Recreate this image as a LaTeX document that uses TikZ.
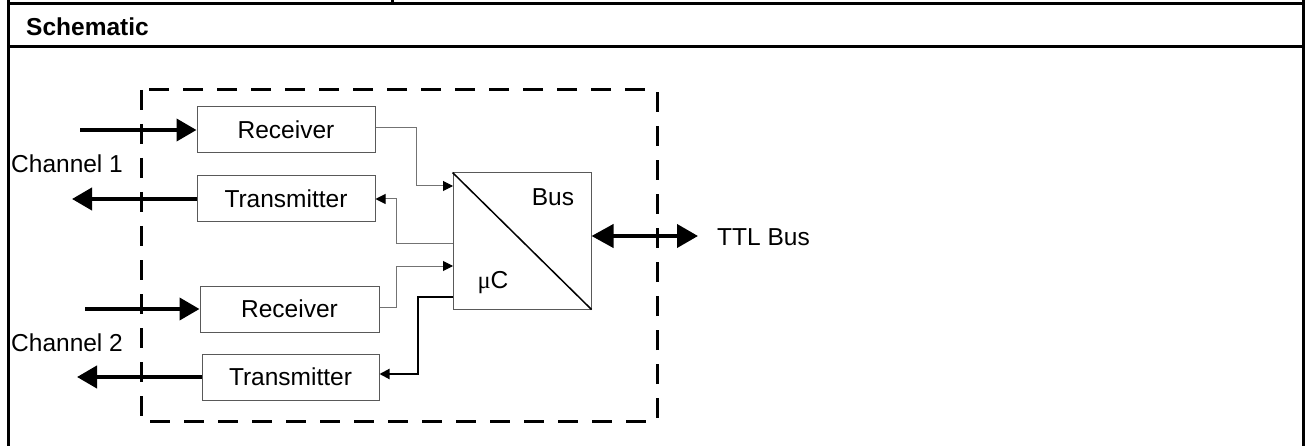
\documentclass[tikz,border=0pt]{standalone}
\usepackage{fontspec}
\setmainfont{Liberation Sans}
\newfontfamily\mufont{Liberation Serif}
\usetikzlibrary{arrows.meta}
\begin{document}
\begin{tikzpicture}[x=1pt,y=-1pt,
  frame/.style={line width=3pt,black},
  blk/.style={draw=black!65, line width=1pt, minimum height=46pt, inner sep=0pt, font=\fontsize{24.5}{28}\selectfont},
  lbl/.style={font=\fontsize{24.5}{28}\selectfont, inner sep=0pt},
  bigarrow/.style={line width=4pt, -{Triangle[length=20pt,width=22pt]}},
  wire/.style={draw=black!55, line width=1pt, -{Triangle[length=10pt,width=10pt,color=black]}}
]
\useasboundingbox (0,0) rectangle (1305,446);
% frame
\draw[frame] (8,0) -- (8,446);
\draw[frame] (1303,0) -- (1303,446);
\draw[frame] (8,4) -- (1303,4);
\draw[frame] (8,47) -- (1303,47);
\draw[frame] (392,0) -- (392,4);
\node[anchor=west, inner sep=0pt, font=\bfseries\fontsize{24.5}{28}\selectfont] (title) at (26,27) {Schematic};
% module boundary
\draw[line width=3pt, dash pattern=on 20pt off 14pt] (141,90) rectangle (657,421);
% blocks
\node[blk, minimum width=178pt] (rx1) at (286,130) {Receiver};
\node[blk, minimum width=178pt] (tx1) at (286,199) {Transmitter};
\node[blk, minimum width=179pt] (rx2) at (289.5,309) {Receiver};
\node[blk, minimum width=177pt] (tx2) at (290.5,377) {Transmitter};
\node[draw=black!65, line width=1pt, minimum width=138pt, minimum height=136pt, inner sep=0pt] (mc) at (522,241) {};
\draw[line width=1.5pt] (mc.north west) -- (mc.south east);
\node[lbl] (bus) at (553,197) {Bus};
\node[lbl] (uc) at (493,283) {{\mufont μ}C};
% channel arrows
\coordinate (c1in) at (80,130);
\coordinate (c1out) at (72,199);
\coordinate (c2in) at (85,309);
\coordinate (c2out) at (77,377);
\draw[bigarrow] (c1in) -- (rx1.west);
\draw[bigarrow] (tx1.west) -- (c1out);
\draw[bigarrow] (c2in) -- (rx2.west);
\draw[bigarrow] (tx2.west) -- (c2out);
\node[lbl, anchor=west] (ch1) at (11,164) {Channel 1};
\node[lbl, anchor=west] (ch2) at (11,343) {Channel 2};
% TTL bus
\coordinate (ttl) at (698,236);
\draw[line width=4pt, {Triangle[length=22pt,width=23pt]}-{Triangle[length=21pt,width=23pt]}] (ttl -| mc.east) -- (ttl);
\node[lbl, anchor=west] (ttllbl) at (717,237) {TTL Bus};
% internal wires
\coordinate (m1) at (453,186);
\coordinate (m2) at (453,244);
\coordinate (m3) at (453,266);
\coordinate (m4) at (453,297);
\draw[wire] ([yshift=2pt]rx1.east) -- ++(41,0) |- (m1);
\draw[wire] (m2) -- ++(-57,0) |- (tx1.east);
\draw[wire] ([yshift=2pt]rx2.east) -- ++(17,0) |- (m3);
\draw[wire, draw=black, line width=2pt] (m4) -- ++(-35,0) |- ([yshift=3pt]tx2.east);
\end{tikzpicture}
\end{document}
